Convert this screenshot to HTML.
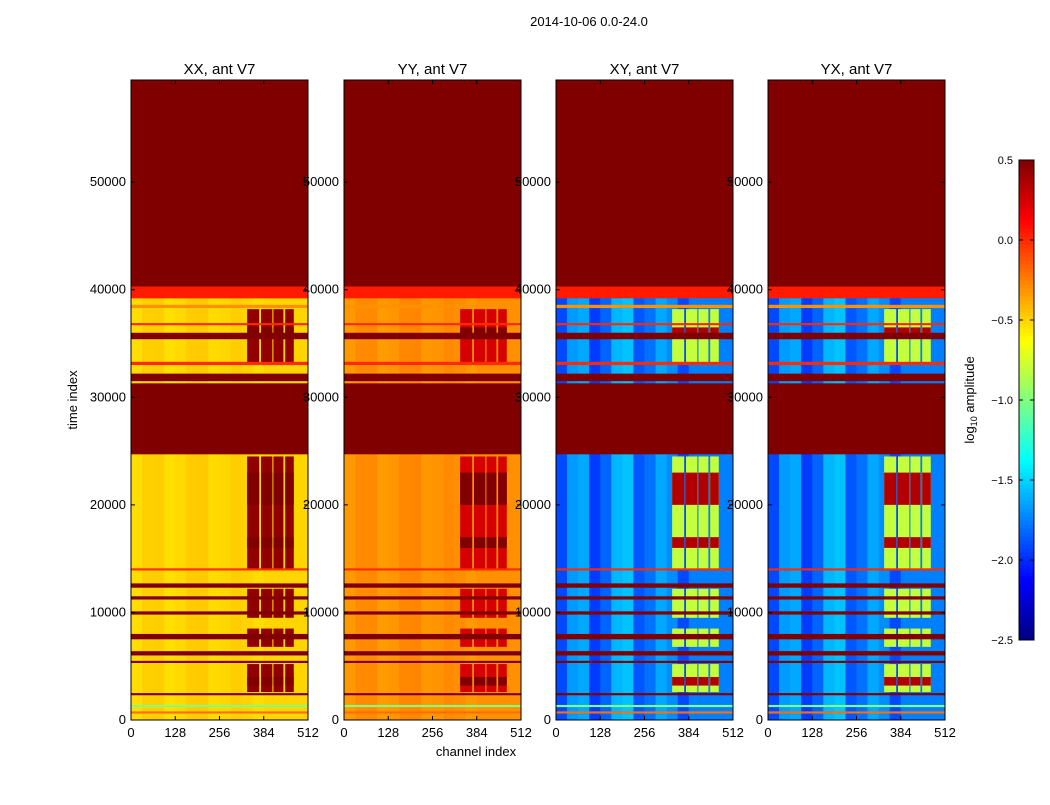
<!DOCTYPE html>
<html><head><meta charset="utf-8"><style>
body{margin:0;background:#fff;font-family:"Liberation Sans",sans-serif}
svg text{font-family:"Liberation Sans",sans-serif}
</style></head><body>
<svg id="fig" width="1050" height="800" viewBox="0 0 1050 800" xmlns="http://www.w3.org/2000/svg">
<rect width="1050" height="800" fill="#fff"/>
<text x="589" y="26" font-size="13" text-anchor="middle">2014-10-06 0.0-24.0</text>
<text transform="translate(77,400) rotate(-90)" font-size="13" text-anchor="middle">time index</text>
<text x="476" y="756" font-size="13" text-anchor="middle">channel index</text>
<text transform="translate(974,400) rotate(-90)" font-size="13" text-anchor="middle">log<tspan font-size="9" dy="3">10</tspan><tspan dy="-3"> amplitude</tspan></text>
<g id="panels"></g>
<g id="cbar"></g>
</svg>
<script>
const panelTitles=["XX, ant V7","YY, ant V7","XY, ant V7","YX, ant V7"];
const panelLeft=[131,344,556,768];
const baseValues=[-0.5,-0.3,-1.75,-1.75];
const profileScale=[0.12,0.12,0.8,0.8];
const channelProfile=[-0.2,0.1,0.15,-0.25,-0.1,0.2,0.25,-0.15,-0.05,0.15,0.05,-0.2,0,0,0,0];
const rfiValues=[0.45,0.25,-0.8,-0.8];
const rfiHotValues=[0.5,0.5,0.35,0.35];
const saturatedBands=[[40300,59500],[35400,36000],[31500,32200],[24700,31300],[12300,12700],[11200,11500],[9800,10100],[7500,8000],[6000,6400],[5300,5500],[2300,2500]];
const edgeBands=[[39200,40300,0.05],[38300,38600,-0.3],[36700,36900,0.0],[33000,33300,0.0],[30300,30500,-0.3],[28000,28200,-0.4],[13900,14100,0.0],[1200,1400,-1.0],[600,800,-0.2]];
const rfiChannels=[[336,370],[376,408],[412,440],[446,470]];
const rfiTimes=[[2600,5200],[6800,8500],[9500,12200],[14000,24500],[33000,38200]];
const hotTimes=[[3200,4000],[16000,17000],[20000,23000],[35500,36500]];
const yTicks=[0,10000,20000,30000,40000,50000];
const xTicks=[0,128,256,384,512];
const cbTicks=[0.5,0.0,-0.5,-1.0,-1.5,-2.0,-2.5];
const W=177,plotTop=80,plotBot=720,tMax=59500,cMax=512,vMin=-2.5,vMax=0.5;
const NS="http://www.w3.org/2000/svg";
function jet(v){let t=(v-vMin)/(vMax-vMin);t=Math.max(0,Math.min(1,t));
 const f=x=>Math.round(255*Math.max(0,Math.min(1,x)));
 const r=1.5-Math.abs(4*t-3),g=1.5-Math.abs(4*t-2),b=1.5-Math.abs(4*t-1);
 return `rgb(${f(r)},${f(g)},${f(b)})`;}
const yS=t=>plotBot-(t/tMax)*(plotBot-plotTop);
function el(tag,attrs,parent){const e=document.createElementNS(NS,tag);for(const k in attrs)e.setAttribute(k,attrs[k]);parent.appendChild(e);return e;}
const P=document.getElementById('panels');
panelLeft.forEach((L,i)=>{
 const xS=c=>L+c/cMax*W;
 const g=el('g',{},P);
 
 
 function cell(c0,c1,t0,t1,v){const r=el('rect',{x:xS(c0),y:yS(t1),width:xS(c1)-xS(c0)+0.3,height:yS(t0)-yS(t1),fill:jet(v)},g);
  
  }
 channelProfile.forEach((p,k)=>cell(k*32,(k+1)*32,0,tMax,baseValues[i]+p*profileScale[i]));
 rfiTimes.forEach(([t0,t1])=>rfiChannels.forEach(([c0,c1])=>cell(c0,c1,t0,t1,rfiValues[i])));
 hotTimes.forEach(([t0,t1])=>rfiChannels.forEach(([c0,c1])=>cell(c0,c1,t0,t1,rfiHotValues[i])));
 edgeBands.forEach(([t0,t1,v])=>cell(0,512,t0,t1,v));
 saturatedBands.forEach(([t0,t1])=>cell(0,512,t0,t1,0.5));
 el('rect',{x:L,y:plotTop,width:W,height:plotBot-plotTop,fill:'none',stroke:'#000','stroke-width':1},g);
 const tt=el('text',{x:L+W/2,y:74,'font-size':15,'text-anchor':'middle'},g);tt.textContent=panelTitles[i];
 
 
 yTicks.forEach(t=>{const y=yS(t);el('line',{x1:L,x2:L+4,y1:y,y2:y,stroke:'#000'},g);el('line',{x1:L+W-4,x2:L+W,y1:y,y2:y,stroke:'#000'},g);
  const tx=el('text',{x:L-5,y:y+4,'font-size':13,'text-anchor':'end'},g);tx.textContent=t;
  
  });
 xTicks.forEach(c=>{const x=xS(c);el('line',{x1:x,x2:x,y1:plotBot,y2:plotBot-4,stroke:'#000'},g);el('line',{x1:x,x2:x,y1:plotTop,y2:plotTop+4,stroke:'#000'},g);
  const tx=el('text',{x:x,y:737,'font-size':13,'text-anchor':'middle'},g);tx.textContent=c;
  
  });
});
const C=document.getElementById('cbar');


const cy=v=>160+(vMax-v)/(vMax-vMin)*480;
for(let k=0;k<120;k++){const v0=vMin+k*(vMax-vMin)/120,v1=vMin+(k+1)*(vMax-vMin)/120;
 el('rect',{x:1019,y:cy(v1),width:15,height:cy(v0)-cy(v1)+0.5,fill:jet((v0+v1)/2)},C);}
el('rect',{x:1019,y:160,width:15,height:480,fill:'none',stroke:'#000'},C);
cbTicks.forEach(v=>{const y=cy(v);el('line',{x1:1030,x2:1034,y1:y,y2:y,stroke:'#000'},C);el('line',{x1:1019,x2:1023,y1:y,y2:y,stroke:'#000'},C);
 const tx=el('text',{x:1013,y:y+4,'font-size':11,'text-anchor':'end'},C);tx.textContent=v.toFixed(1).replace('-','\u2212');
 
 });
</script>
</body></html>
